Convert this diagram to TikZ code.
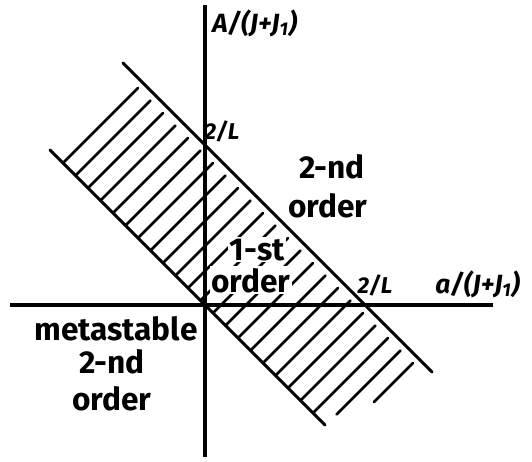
\documentclass[tikz,border=0pt]{standalone}
\usepackage{fontspec}
\setmainfont{Fira Sans}
\usetikzlibrary{positioning}
\tikzset{
  axisline/.style={line width=1.8pt},
  stripline/.style={line width=1.8pt, line cap=round},
  hatchline/.style={line width=1.5pt, line cap=round},
  region/.style={font=\fontsize{18}{20}\selectfont\bfseries, inner sep=1pt},
  hatchregion/.style={region, fill=white},
  axislabel/.style={font=\fontsize{15}{17}\selectfont\bfseries\itshape, inner sep=0pt},
  ticklabel/.style={font=\fontsize{13}{15}\selectfont\bfseries\itshape, inner sep=0pt}
}
\begin{document}
\begin{tikzpicture}[x=0.02cm, y=0.02cm]
      \useasboundingbox (-205,-156) rectangle (327,305);
      % axes and strip ends
      \coordinate (ytop) at (0,300);
      \coordinate (ybot) at (0,-152);
      \coordinate (xleft) at (-195,0);
      \coordinate (xright) at (288,0);
      \coordinate (upA) at (-82,242);
      \coordinate (upB) at (227,-67);
      \coordinate (loA) at (-155,155);
      \coordinate (loB) at (120,-120);
      % hatching across the strip
      \foreach \s in {-142,-129.5,...,135} {
        \pgfmathsetmacro{\tnull}{max(0,2*(\s-115))}
        \draw[hatchline] (\s+\tnull,-\s+\tnull) -- (\s+75,-\s+75);
      }
      % labels
      \node[axislabel, anchor=west] (ylab) at (7,282) {A/(J+J\textsubscript{1})};
      \node[axislabel, anchor=base west] (xlab) at (230,12) {a/(J+J\textsubscript{1})};
      \node[ticklabel, anchor=base] (ytick) at (17,166) {2/L};
      \node[ticklabel, anchor=base] (xtick) at (170,12) {2/L};
      \node[region, anchor=base] (second) at (127,127) {2-nd};
      \node[region, anchor=base] (secondb) at (123,88) {order};
      \node[hatchregion, anchor=base] (first) at (52,45) {1-st};
      \node[hatchregion, anchor=base] (firstb) at (46,13) {order};
      \node[region, anchor=base] (meta) at (-89,-35) {metastable};
      \node[region, anchor=base] (metab) at (-93,-68) {2-nd};
      \node[region, anchor=base] (metac) at (-93,-105) {order};
      % lines
      \draw[stripline] (upA) -- (upB);
      \draw[stripline] (loA) -- (loB);
      \draw[axisline] (ybot) -- (ytop);
      \draw[axisline] (xleft) -- (xright);
    \end{tikzpicture}
\end{document}
